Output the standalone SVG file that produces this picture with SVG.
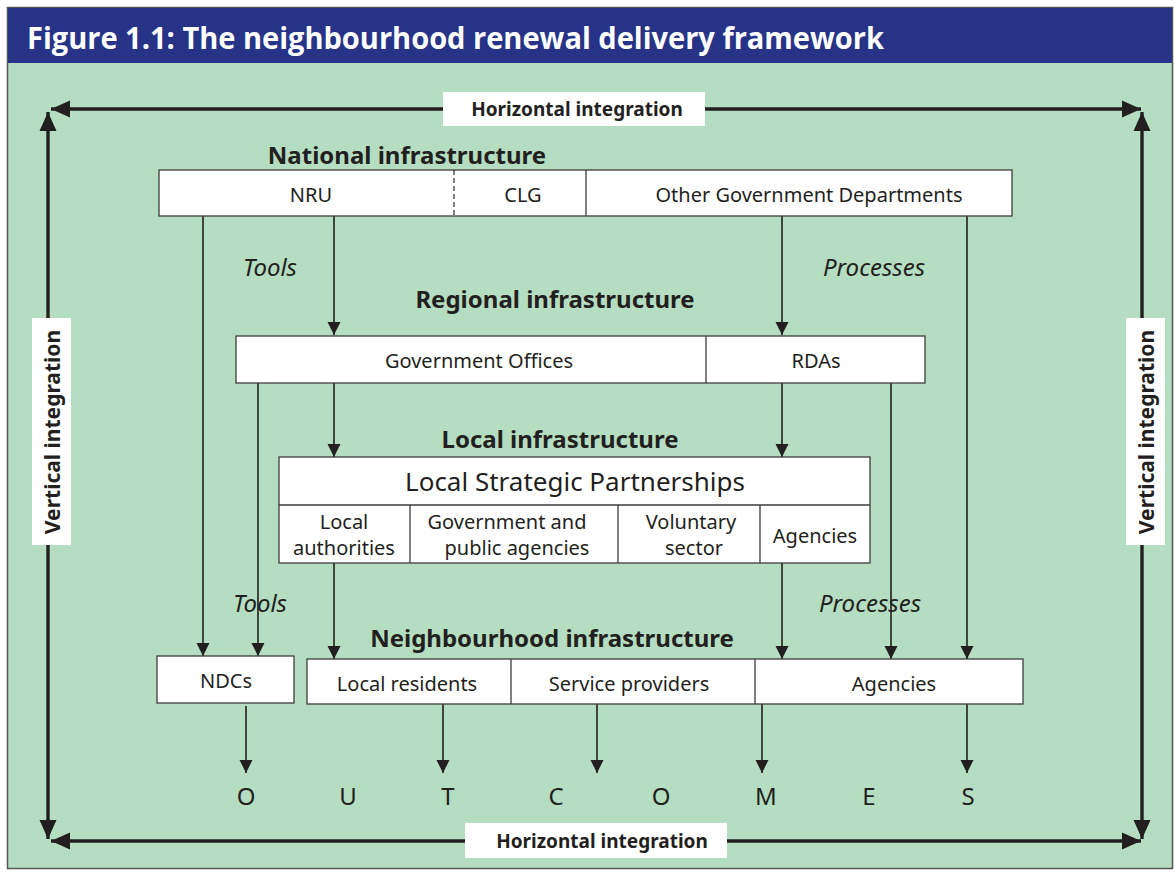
<svg xmlns="http://www.w3.org/2000/svg" width="1175" height="873" viewBox="0 0 1175 873">
<style>
.box{fill:#fff;stroke:#3c3c3c;stroke-width:1.3}
.div{stroke:#3c3c3c;stroke-width:1.3;fill:none}
.t{font-family:"Noto Sans","Open Sans","Liberation Sans",sans-serif;fill:#231f20;font-size:20px;text-anchor:middle;dominant-baseline:central}
.b{font-weight:bold;font-size:24px}
.lab{font-weight:bold;font-size:19px}
.vl{font-weight:bold;font-size:21px}
.i{font-style:italic;font-size:24px}
.big{font-size:26px}
.oc{font-size:24px}
.c{stroke:#231f20;stroke-width:1.6;fill:none}
.o{stroke:#231f20;stroke-width:3.4;fill:none}
.lb{fill:#fff}
</style>
<defs>
<marker id="ah" markerUnits="userSpaceOnUse" markerWidth="14" markerHeight="14" viewBox="0 0 14 14" refX="13" refY="7" orient="auto">
<path d="M0,0.5 L13,7 L0,13.5 Z" fill="#231f20"/>
</marker>
<marker id="big" markerUnits="userSpaceOnUse" markerWidth="20" markerHeight="18" viewBox="0 0 20 18" refX="19" refY="9" orient="auto-start-reverse">
<path d="M0,0.5 L19,9 L0,17.5 Z" fill="#231f20"/>
</marker>
</defs>

<!-- background -->
<rect x="7.5" y="7.5" width="1165" height="861" fill="#b5ddc1" stroke="#555" stroke-width="1.5"/>
<rect x="8" y="8" width="1164" height="55" fill="#263387"/>
<text x="27" y="37" font-family="'Open Sans','Noto Sans','Liberation Sans',sans-serif" font-weight="bold" font-size="30" fill="#fff" dominant-baseline="central" textLength="857" lengthAdjust="spacingAndGlyphs">Figure 1.1: The neighbourhood renewal delivery framework</text>

<!-- connectors -->
<g id="connectors">
<path class="o" d="M1141,109 H51" marker-start="url(#big)" marker-end="url(#big)"/>
<path class="o" d="M1141,841 H51" marker-start="url(#big)" marker-end="url(#big)"/>
<path class="o" d="M48,839 V112" marker-start="url(#big)" marker-end="url(#big)"/>
<path class="o" d="M1142,839 V112" marker-start="url(#big)" marker-end="url(#big)"/>

<path class="c" d="M203,216 V656" marker-end="url(#ah)"/>
<path class="c" d="M334,216 V335" marker-end="url(#ah)"/>
<path class="c" d="M782,216 V335" marker-end="url(#ah)"/>
<path class="c" d="M967,216 V659" marker-end="url(#ah)"/>

<path class="c" d="M258,383 V656" marker-end="url(#ah)"/>
<path class="c" d="M334,383 V457" marker-end="url(#ah)"/>
<path class="c" d="M782,383 V457" marker-end="url(#ah)"/>
<path class="c" d="M891,383 V659" marker-end="url(#ah)"/>

<path class="c" d="M334,563 V659" marker-end="url(#ah)"/>
<path class="c" d="M782,563 V659" marker-end="url(#ah)"/>

<path class="c" d="M246,706 V773" marker-end="url(#ah)"/>
<path class="c" d="M443,704 V773" marker-end="url(#ah)"/>
<path class="c" d="M597,704 V773" marker-end="url(#ah)"/>
<path class="c" d="M762,704 V773" marker-end="url(#ah)"/>
<path class="c" d="M967,704 V773" marker-end="url(#ah)"/>
</g>

<!-- integration labels -->
<g id="h-top">
<rect class="lb" x="443" y="92" width="262" height="34"/>
<text class="t lab" x="577" y="109">Horizontal integration</text>
</g>
<g id="h-bottom">
<rect class="lb" x="465" y="823" width="262" height="35"/>
<text class="t lab" x="602" y="841">Horizontal integration</text>
</g>
<g id="v-left">
<rect class="lb" x="32" y="318" width="39" height="227"/>
<text class="t vl" transform="translate(52,432) rotate(-90)" x="0" y="0">Vertical integration</text>
</g>
<g id="v-right">
<rect class="lb" x="1126" y="318" width="39" height="227"/>
<text class="t vl" transform="translate(1146,432) rotate(-90)" x="0" y="0">Vertical integration</text>
</g>

<!-- level headings and flow labels -->
<text class="t b" x="407" y="154">National infrastructure</text>
<text class="t b" x="555" y="298">Regional infrastructure</text>
<text class="t b" x="560" y="438">Local infrastructure</text>
<text class="t b" x="552" y="637">Neighbourhood infrastructure</text>
<text class="t i" x="270" y="266">Tools</text>
<text class="t i" x="874" y="266">Processes</text>
<text class="t i" x="260" y="602">Tools</text>
<text class="t i" x="870" y="602">Processes</text>

<!-- national -->
<g id="national">
<rect class="box" x="159" y="170" width="853" height="46"/>
<path class="div" d="M454,170 V216" stroke-dasharray="5,3"/>
<path class="div" d="M586,170 V216"/>
<text class="t" x="311" y="194">NRU</text>
<text class="t" x="523" y="194">CLG</text>
<text class="t" x="809" y="194">Other Government Departments</text>
</g>

<!-- regional -->
<g id="regional">
<rect class="box" x="236" y="336" width="689" height="47"/>
<path class="div" d="M706,336 V383"/>
<text class="t" x="479" y="360">Government Offices</text>
<text class="t" x="816" y="360">RDAs</text>
</g>

<!-- local -->
<g id="local">
<rect class="box" x="279" y="457" width="591" height="106"/>
<path class="div" d="M279,505 H870 M410,505 V563 M618,505 V563 M760,505 V563"/>
<text class="t big" x="575" y="481">Local Strategic Partnerships</text>
<text class="t" x="344" y="521">Local</text>
<text class="t" x="344" y="547">authorities</text>
<text class="t" x="507" y="521">Government and</text>
<text class="t" x="517" y="547">public agencies</text>
<text class="t" x="691" y="521">Voluntary</text>
<text class="t" x="694" y="547">sector</text>
<text class="t" x="815" y="535">Agencies</text>
</g>

<!-- neighbourhood -->
<g id="ndcs">
<rect class="box" x="157" y="656" width="137" height="47"/>
<text class="t" x="226" y="680">NDCs</text>
</g>
<g id="neighbourhood">
<rect class="box" x="307" y="659" width="716" height="45"/>
<path class="div" d="M511,659 V704 M755,659 V704"/>
<text class="t" x="407" y="683">Local residents</text>
<text class="t" x="629" y="683">Service providers</text>
<text class="t" x="894" y="683">Agencies</text>
</g>

<!-- outcomes -->
<g id="outcomes">
<text class="t oc" x="246" y="795">O</text>
<text class="t oc" x="348" y="795">U</text>
<text class="t oc" x="448" y="795">T</text>
<text class="t oc" x="556" y="795">C</text>
<text class="t oc" x="661" y="795">O</text>
<text class="t oc" x="766" y="795">M</text>
<text class="t oc" x="869" y="795">E</text>
<text class="t oc" x="968" y="795">S</text>
</g>
</svg>
